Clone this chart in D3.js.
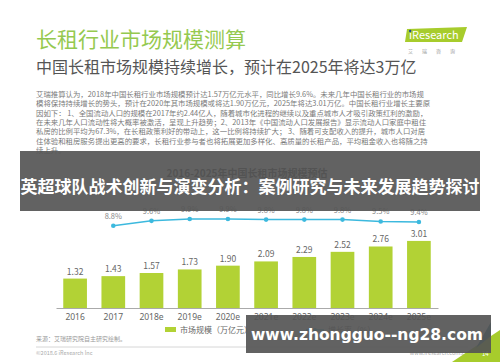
<!DOCTYPE html>
<html>
<head>
<meta charset="utf-8">
<script src="https://cdn.jsdelivr.net/npm/d3@7"></script>
<style>
  body { margin: 0; background: #fff; }
  text { font-family: "Noto Sans CJK SC", "Noto Sans", sans-serif; }
</style>
</head>
<body>
<div id="chart"></div>
<script>
var W = 500, H = 362

// data
var years = ["2016", "2017", "2018e", "2019e", "2020e", "2021e", "2022e", "2023e", "2024e", "2025e"]
var marketSize = [1.32, 1.43, 1.57, 1.73, 1.90, 2.09, 2.29, 2.52, 2.76, 3.01]
var growthRate = [null, 8.8, 9.6, 9.9, 9.9, 9.8, 9.8, 9.8, 9.5, 9.4]
var legendLabels = ["市场规模（万亿元）", "增长率（%）"]
var paraLines = [
  "艾瑞推算认为，2018年中国长租行业市场规模预计达1.57万亿元水平，同比增长9.6%。未来几年中国长租行业的市场规",
  "模将保持持续增长的势头，预计在2020年其市场规模或将达1.90万亿元，2025年将达3.01万亿。中国长租行业增长主要原",
  "因如下： 1、全国流动人口的规模在2017年约2.44亿人，随着城市化进程的继续以及重点城市人才吸引政策红利的激励，",
  "在未来几年人口流动性将大概率被激活，呈现上升趋势；2、2013年《中国流动人口发展报告》显示流动人口家庭中租住",
  "私房的比例平均为67.3%，在长租政策利好的带动上，这一比例将持续扩大； 3、随着可支配收入的提升，城市人口对居",
  "住体验和租房服务提出更高的要求，长租行业参与者也将拓展更加多样化、高质量的长租产品，平均租金收入也将随之持",
  "续上升。"
]

var barColor = "#b2d235",
lineColor = "#3cb9de"

var svg = d3.select("#chart")
    .append("svg")
    .attr("width", W)
    .attr("height", H)

svg.append("rect")
    .attr("width", W).attr("height", H)
    .style("fill", "#fff")

// header
svg.append("text")
    .attr("x", 36).attr("y", 47)
    .style("font-size", "21px")
    .style("fill", "#95c94f")
    .text("长租行业市场规模测算")

svg.append("text")
    .attr("x", 36).attr("y", 73)
    .style("font-size", "16px")
    .style("fill", "#555")
    .text("中国长租市场规模持续增长，预计在2025年将达3万亿")

// logo
var logo = svg.append("g").attr("transform", "translate(405,27)")
logo.append("path")
    .attr("d", "M2,2 L62,0 L57,15 L0,15 Z")
    .style("fill", "#a7cc2c")
logo.append("text")
    .attr("x", 4).attr("y", 12)
    .style("font-size", "11px")
    .style("fill", "#fff")
    .text("iResearch")
logo.append("circle").attr("cx", 5.2).attr("cy", 4).attr("r", 1.2).style("fill", "#1c4a8c")
logo.append("text")
    .attr("x", 3).attr("y", 26)
    .style("font-size", "5px")
    .style("fill", "#999")
    .style("letter-spacing", "9px")
    .text("艾瑞咨询")

// paragraph
svg.append("g").selectAll("text")
    .data(paraLines)
    .join("text")
    .attr("x", 36)
    .attr("y", (d, i) => 97 + i * 9.3)
    .style("font-size", "7.4px")
    .style("fill", "#7a7a7a")
    .text(d => d)

// chart
var x = d3.scaleBand().domain(years).range([56, 438])
var y = d3.scaleLinear().domain([0, 3.5]).range([308, 230])
var yRate = d3.scaleLinear().domain([0, 10]).range([279.4, 218.4])
var barW = x.bandwidth() * 0.62

svg.append("text")
    .attr("x", 247).attr("y", 177)
    .attr("text-anchor", "middle")
    .style("font-size", "10px")
    .style("font-weight", "bold")
    .style("fill", "#444")
    .text("2016-2025年中国长租市场规模预估")

svg.append("g").selectAll("rect")
    .data(marketSize)
    .join("rect")
    .attr("x", (d, i) => x(years[i]) + (x.bandwidth() - barW) / 2)
    .attr("y", d => y(d))
    .attr("width", barW)
    .attr("height", d => y(0) - y(d))
    .style("fill", barColor)

svg.append("g").selectAll("text")
    .data(marketSize)
    .join("text")
    .attr("x", (d, i) => x(years[i]) + x.bandwidth() / 2)
    .attr("y", d => y(d) - 4)
    .attr("text-anchor", "middle")
    .style("font-size", "8.5px")
    .style("fill", "#666")
    .text(d => d.toFixed(2))

var xAxis = svg.append("g")
    .attr("transform", "translate(0,308)")
    .call(d3.axisBottom(x).tickSize(0).tickPadding(6))
xAxis.select(".domain").style("stroke", "#aaa")
xAxis.selectAll("text")
    .style("font-size", "8.5px")
    .style("fill", "#666")
    .style("font-family", "'Noto Sans', sans-serif")

var ratePts = growthRate.map((v, i) => ({year: years[i], v: v})).filter(d => d.v != null)
var line = d3.line()
    .x(d => x(d.year) + x.bandwidth() / 2)
    .y(d => yRate(d.v))
svg.append("path")
    .attr("d", line(ratePts))
    .style("fill", "none")
    .style("stroke", lineColor)
    .style("stroke-width", 1.5)
svg.append("g").selectAll("circle")
    .data(ratePts)
    .join("circle")
    .attr("cx", d => x(d.year) + x.bandwidth() / 2)
    .attr("cy", d => yRate(d.v))
    .attr("r", 2.3)
    .style("fill", lineColor)
svg.append("g").selectAll("text")
    .data(ratePts)
    .join("text")
    .attr("x", d => x(d.year) + x.bandwidth() / 2)
    .attr("y", d => yRate(d.v) - 7)
    .attr("text-anchor", "middle")
    .style("font-size", "7.5px")
    .style("fill", "#888")
    .text(d => d.v.toFixed(1) + "%")

// legend
svg.append("rect").attr("x", 165).attr("y", 327).attr("width", 11).attr("height", 5).style("fill", barColor)
svg.append("text").attr("x", 180).attr("y", 333)
    .style("font-size", "8px").style("fill", "#666").text(legendLabels[0])
svg.append("line").attr("x1", 306).attr("x2", 324).attr("y1", 330).attr("y2", 330)
    .style("stroke", lineColor).style("stroke-width", 1.5)
svg.append("circle").attr("cx", 315).attr("cy", 330).attr("r", 2).style("fill", lineColor)
svg.append("text").attr("x", 328).attr("y", 333)
    .style("font-size", "8px").style("fill", "#666").text(legendLabels[1])

// footer
svg.append("text").attr("x", 36).attr("y", 341)
    .style("font-size", "6px").style("fill", "#999").text("来源：艾瑞研究院自主研究绘制。")
svg.append("line").attr("x1", 36).attr("x2", 468).attr("y1", 347).attr("y2", 347)
    .style("stroke", "#ccc").style("stroke-width", 0.8)
svg.append("text").attr("x", 36).attr("y", 355)
    .style("font-size", "5.5px").style("fill", "#aaa").text("©2018.6 iResearch Inc")
svg.append("text").attr("x", 468).attr("y", 355).attr("text-anchor", "end")
    .style("font-size", "5.5px").style("fill", "#aaa").text("www.iresearch.com.cn")
svg.append("path").attr("d", "M452,362 L500,362 L500,330 Z").style("fill", "#a7cc2c")
svg.append("path").attr("d", "M476,348 L491,322 L491,336 Z").style("fill", "#1e6f8c")
svg.append("text").attr("x", 482).attr("y", 356)
    .style("font-size", "6px").style("fill", "#fff").text("14")

// overlay bands
svg.append("rect").attr("x", 20).attr("y", 151).attr("width", 460).attr("height", 60)
    .style("fill", "#555").style("opacity", 0.92)
svg.append("text").attr("x", 250).attr("y", 193).attr("text-anchor", "middle")
    .style("font-size", "17px").style("font-weight", "bold").style("fill", "#fff")
    .text("英超球队战术创新与演变分析：案例研究与未来发展趋势探讨")

svg.append("rect").attr("x", 246).attr("y", 315).attr("width", 245).attr("height", 38)
    .style("fill", "#555").style("opacity", 0.92)
svg.append("text").attr("x", 367).attr("y", 340).attr("text-anchor", "middle")
    .style("font-size", "15.5px").style("font-weight", "bold").style("fill", "#fff")
    .style("font-family", "'DejaVu Sans', sans-serif")
    .text("www.zhongguo--ng28.com")
</script>
</body>
</html>
